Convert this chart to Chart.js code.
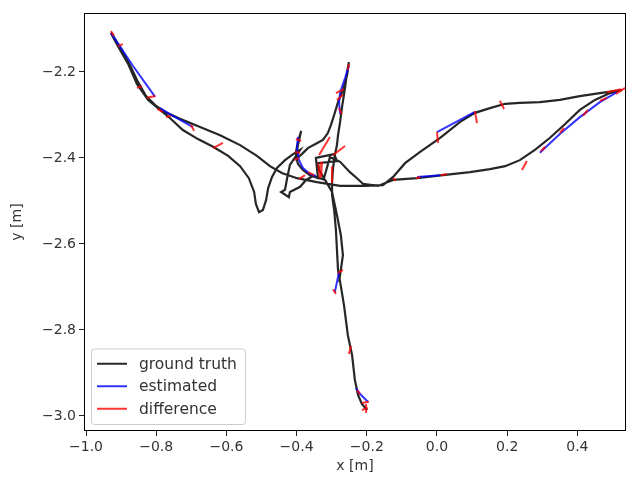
<!DOCTYPE html>
<html lang="en">
<head>
<meta charset="UTF-8">
<title>Trajectory</title>
<style>
  body { margin: 0; background: #fff; }
  #wrap { width: 636px; height: 479px; position: relative; }
</style>
</head>
<body>
<div id="wrap"><canvas id="traj"></canvas></div>
<script src="https://cdn.jsdelivr.net/npm/chart.js"></script>
<script>
const xTicks = [-1.0, -0.8, -0.6, -0.4, -0.2, 0.0, 0.2, 0.4];
const yTicks = [-3.0, -2.8, -2.6, -2.4, -2.2];
const seriesNames = ['ground truth', 'estimated', 'difference'];

// ground truth, one continuous path
const gtX = [
  -0.199,-0.214,-0.225,-0.234,-0.242,-0.254,-0.265,-0.276,-0.282,-0.285,
  -0.288,-0.293,-0.299,-0.299,-0.296,-0.291,-0.285,-0.282,-0.276,-0.271,
  -0.262,-0.256,-0.251,-0.256,-0.268,-0.282,-0.293,-0.302,-0.311,-0.325,
  -0.345,-0.368,-0.385,-0.399,-0.402,-0.396,-0.387,-0.396,-0.402,-0.396,
  -0.382,-0.362,-0.339,-0.345,-0.293,-0.285,-0.339,-0.336,-0.322,-0.305,
  -0.276,-0.248,-0.228,-0.211,-0.168,-0.125,-0.057,0.017,0.094,0.151,
  0.194,0.236,0.279,0.322,0.365,0.407,0.450,0.493,0.527,0.464,
  0.407,0.350,0.293,0.236,0.194,0.151,0.108,0.066,0.009,-0.048,
  -0.091,-0.125,-0.154,-0.205,-0.276,-0.342,-0.399,-0.442,-0.476,-0.513,
  -0.561,-0.618,-0.675,-0.732,-0.775,-0.803,-0.829,-0.852,-0.875,-0.903,
  -0.929,-0.909,-0.880,-0.855,-0.823,-0.789,-0.761,-0.724,-0.681,-0.638,
  -0.595,-0.561,-0.536,-0.521,-0.516,-0.507,-0.496,-0.487,-0.481,-0.470,
  -0.456,-0.433,-0.410,-0.390,-0.419,-0.427,-0.433,-0.444,-0.422,-0.419,
  -0.390,-0.373,-0.353,-0.319,-0.299,-0.285,-0.274,-0.268,-0.274,-0.279
];
const gtY = [
  -2.986,-2.972,-2.951,-2.916,-2.858,-2.812,-2.742,-2.688,-2.660,-2.614,
  -2.567,-2.521,-2.486,-2.456,-2.423,-2.393,-2.370,-2.347,-2.316,-2.284,
  -2.237,-2.200,-2.177,-2.207,-2.242,-2.270,-2.300,-2.323,-2.342,-2.358,
  -2.367,-2.377,-2.391,-2.400,-2.386,-2.363,-2.337,-2.370,-2.395,-2.414,
  -2.428,-2.440,-2.447,-2.400,-2.391,-2.407,-2.412,-2.428,-2.447,-2.398,
  -2.409,-2.433,-2.447,-2.460,-2.465,-2.451,-2.447,-2.440,-2.433,-2.426,
  -2.419,-2.405,-2.381,-2.353,-2.321,-2.288,-2.265,-2.249,-2.242,-2.249,
  -2.256,-2.265,-2.270,-2.272,-2.274,-2.284,-2.295,-2.316,-2.353,-2.386,
  -2.412,-2.444,-2.463,-2.465,-2.465,-2.456,-2.447,-2.435,-2.419,-2.395,
  -2.370,-2.347,-2.328,-2.309,-2.293,-2.277,-2.256,-2.223,-2.184,-2.142,
  -2.109,-2.140,-2.181,-2.228,-2.265,-2.288,-2.307,-2.335,-2.356,-2.374,
  -2.395,-2.419,-2.447,-2.479,-2.507,-2.526,-2.521,-2.498,-2.470,-2.444,
  -2.423,-2.405,-2.391,-2.381,-2.416,-2.447,-2.474,-2.479,-2.491,-2.479,
  -2.467,-2.451,-2.442,-2.451,-2.479,-2.533,-2.579,-2.626,-2.660,-2.688
];

// estimated trajectory, only the pieces that show apart from the ground truth
const estPieces = [
  [[-0.929,-2.109],[-0.866,-2.186],[-0.803,-2.258]],
  [[-0.789,-2.284],[-0.761,-2.298],[-0.695,-2.328]],
  [[-0.396,-2.351],[-0.399,-2.377],[-0.393,-2.405],[-0.382,-2.423],[-0.362,-2.437],[-0.345,-2.442]],
  [[-0.251,-2.186],[-0.262,-2.214],[-0.276,-2.247],[-0.279,-2.270],[-0.276,-2.298]],
  [[0.000,-2.340],[0.108,-2.293]],
  [[-0.057,-2.444],[0.009,-2.440]],
  [[0.293,-2.388],[0.350,-2.344],[0.407,-2.305],[0.464,-2.270],[0.513,-2.247]],
  [[-0.231,-2.935],[-0.219,-2.949],[-0.197,-2.967]],
  [[-0.279,-2.665],[-0.291,-2.712]]
];

// difference: x1, y1 (ground truth) -> x2, y2 (estimated)
const diffPairs = [
  [-0.929,-2.105,-0.920,-2.116], [-0.909,-2.140,-0.895,-2.135],
  [-0.855,-2.237,-0.840,-2.233], [-0.826,-2.260,-0.803,-2.256],
  [-0.797,-2.286,-0.781,-2.293], [-0.772,-2.305,-0.758,-2.302],
  [-0.701,-2.323,-0.692,-2.337], [-0.638,-2.377,-0.610,-2.365],
  [-0.402,-2.356,-0.387,-2.360], [-0.405,-2.386,-0.390,-2.388],
  [-0.407,-2.405,-0.393,-2.400], [-0.393,-2.449,-0.376,-2.440],
  [-0.368,-2.433,-0.350,-2.440], [-0.305,-2.351,-0.336,-2.393],
  [-0.262,-2.372,-0.296,-2.393], [-0.339,-2.412,-0.333,-2.447],
  [-0.328,-2.409,-0.330,-2.444], [-0.299,-2.419,-0.299,-2.458],
  [-0.251,-2.181,-0.254,-2.195], [-0.288,-2.249,-0.265,-2.240],
  [-0.285,-2.265,-0.268,-2.253], [-0.279,-2.284,-0.271,-2.298],
  [0.000,-2.340,0.003,-2.365], [0.108,-2.291,0.114,-2.319],
  [0.179,-2.267,0.191,-2.286], [-0.125,-2.447,-0.117,-2.453],
  [-0.060,-2.447,-0.048,-2.444], [0.011,-2.440,0.028,-2.437],
  [0.256,-2.407,0.242,-2.428], [0.296,-2.384,0.308,-2.374],
  [0.350,-2.342,0.362,-2.330], [0.416,-2.302,0.430,-2.288],
  [0.464,-2.267,0.484,-2.260], [0.484,-2.247,0.524,-2.240],
  [0.510,-2.251,0.536,-2.237], [-0.245,-2.837,-0.251,-2.856],
  [-0.228,-2.940,-0.219,-2.949], [-0.214,-2.970,-0.194,-2.967],
  [-0.202,-2.972,-0.202,-2.993], [-0.214,-2.986,-0.197,-2.981],
  [-0.282,-2.667,-0.268,-2.660], [-0.296,-2.705,-0.288,-2.716]
];

const GAP = {x: null, y: null};
const gtData = gtX.map((x, i) => ({x: x, y: gtY[i]}));
const estData = [];
estPieces.forEach(piece => {
  piece.forEach(p => estData.push({x: p[0], y: p[1]}));
  estData.push(GAP);
});
const diffData = [];
diffPairs.forEach(d => {
  diffData.push({x: d[0], y: d[1]}, {x: d[2], y: d[3]}, GAP);
});

const FONT = {family: 'DejaVu Sans', size: 14};
const LEGEND_FONT = '15.5px DejaVu Sans';
const fmt = v => Math.abs(v) < 1e-9 ? '0.0' : v.toFixed(1).replace('-', '\u2212');

// matplotlib style frame round the axes
const framePlugin = {
  id: 'frame',
  afterDatasetsDraw(chart) {
    const a = chart.chartArea, ctx = chart.ctx;
    ctx.save();
    ctx.strokeStyle = '#000';
    ctx.lineWidth = 1;
    ctx.strokeRect(Math.round(a.left) + 0.5, Math.round(a.top) + 0.5,
                   Math.round(a.right - a.left) - 1, Math.round(a.bottom - a.top) - 1);
    ctx.restore();
  }
};

// legend box in the lower left corner
const boxLegend = {
  id: 'boxLegend',
  afterDraw(chart) {
    const ctx = chart.ctx, a = chart.chartArea;
    const ds = chart.data.datasets;
    ctx.save();
    ctx.font = LEGEND_FONT;
    let textW = 0;
    ds.forEach(d => textW = Math.max(textW, ctx.measureText(d.label).width));
    const rowH = 22.5, pad = 6, handle = 30, gap = 12;
    const w = pad + handle + gap + textW + pad + 2;
    const h = rowH * ds.length + 8;
    const x0 = a.left + 7, y0 = a.bottom - 7 - h;
    ctx.beginPath();
    ctx.roundRect(x0 + 0.5, y0 + 0.5, w, h, 3);
    ctx.fillStyle = 'rgba(255,255,255,0.8)';
    ctx.fill();
    ctx.strokeStyle = '#cccccc';
    ctx.lineWidth = 1;
    ctx.stroke();
    ds.forEach((d, i) => {
      const cy = y0 + 4 + rowH * i + rowH / 2;
      ctx.beginPath();
      ctx.moveTo(x0 + pad, cy);
      ctx.lineTo(x0 + pad + handle, cy);
      ctx.strokeStyle = d.borderColor;
      ctx.lineWidth = 2;
      ctx.stroke();
      ctx.fillStyle = '#333';
      ctx.textBaseline = 'middle';
      ctx.fillText(d.label, x0 + pad + handle + gap, cy + 1);
    });
    ctx.restore();
  }
};

new Chart(document.getElementById('traj'), {
  type: 'scatter',
  data: {
    datasets: [
      {label: seriesNames[0], data: gtData, showLine: true, borderColor: 'rgba(0,0,0,0.85)', borderWidth: 2.2, order: 2},
      {label: seriesNames[1], data: estData, showLine: true, borderColor: 'rgba(0,0,255,0.8)', borderWidth: 2, order: 1},
      {label: seriesNames[2], data: diffData, showLine: true, borderColor: 'rgba(255,0,0,0.8)', borderWidth: 2, order: 0}
    ]
  },
  options: {
    animation: false,
    responsive: true,
    maintainAspectRatio: false,
    layout: {padding: {top: 13, right: 10, left: 0, bottom: 0}},
    elements: {point: {radius: 0, hoverRadius: 0}, line: {tension: 0, fill: false}},
    plugins: {legend: {display: false}, tooltip: {enabled: false}},
    scales: {
      x: {
        type: 'linear', min: -1.0057, max: 0.5385,
        afterBuildTicks: s => { s.ticks = xTicks.map(v => ({value: v})); },
        afterFit: s => { s.height = 48; },
        ticks: {callback: fmt, color: '#333', font: FONT, padding: 3, maxRotation: 0, autoSkip: false},
        grid: {drawOnChartArea: false, tickLength: 5, color: '#222'},
        border: {display: false},
        title: {display: true, text: 'x [m]', color: '#333', font: FONT, padding: {top: 0, bottom: 4}}
      },
      y: {
        type: 'linear', min: -3.0349, max: -2.0628,
        afterBuildTicks: s => { s.ticks = yTicks.map(v => ({value: v})); },
        afterFit: s => { s.width = 84; },
        ticks: {callback: fmt, color: '#333', font: FONT, padding: 3, autoSkip: false},
        grid: {drawOnChartArea: false, tickLength: 5, color: '#222'},
        border: {display: false},
        title: {display: true, text: 'y [m]', color: '#333', font: FONT, padding: {top: 9, bottom: 0}}
      }
    }
  },
  plugins: [framePlugin, boxLegend]
});
</script>
</body>
</html>
